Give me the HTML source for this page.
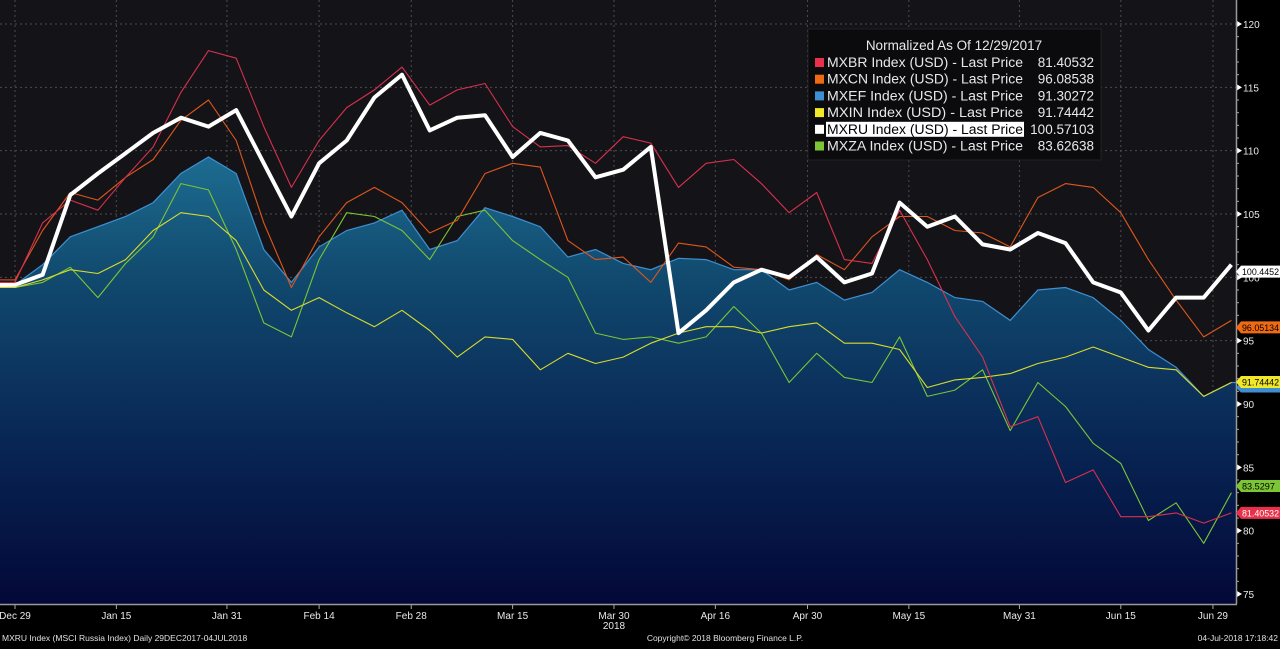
<!DOCTYPE html>
<html><head><meta charset="utf-8">
<style>
html,body{margin:0;padding:0;background:#000;}
body{width:1280px;height:644px;overflow:hidden;font-family:"Liberation Sans",sans-serif;}
svg text{font-family:"Liberation Sans",sans-serif;}
</style></head>
<body>
<svg id="chart" width="1280" height="644" viewBox="0 0 1280 644" xmlns="http://www.w3.org/2000/svg">
<defs>
<linearGradient id="areaGrad" gradientUnits="userSpaceOnUse" x1="0" y1="140" x2="0" y2="604">
<stop offset="0" stop-color="#1f7196"/>
<stop offset="0.3" stop-color="#11496e"/>
<stop offset="0.65" stop-color="#082654"/>
<stop offset="1" stop-color="#030838"/>
</linearGradient>
</defs>
<rect x="0" y="0" width="1236" height="604" fill="#141418"/>
<g id="grid"></g>
<g id="series"></g>
<g id="axes"></g>
<g id="tags"></g>
</svg>
<script>
const days = [0,3,6,9,12,15,18,21,24,27,30,33,36,39,42,45,48,51,54,57,60,63,66,69,72,75,78,81,84,87,90,93,96,99,102,105,108,111,114,117,120,123,126,129,132];
const mxru = [99.4,100.2,106.5,108.2,109.8,111.4,112.6,111.9,113.2,109.0,104.8,109.0,110.8,114.2,116.0,111.6,112.6,112.8,109.5,111.4,110.8,107.9,108.5,110.3,95.6,97.4,99.6,100.6,100.0,101.6,99.6,100.3,105.9,104.0,104.8,102.6,102.2,103.5,102.7,99.6,98.8,95.8,98.4,98.4,101.0];
const mxef = [99.4,101.0,103.2,104.0,104.8,105.9,108.2,109.5,108.2,102.2,99.6,102.4,103.7,104.3,105.3,102.2,102.9,105.5,104.8,104.0,101.6,102.2,101.1,100.6,101.5,101.4,100.6,100.6,99.0,99.6,98.2,98.8,100.6,99.6,98.4,98.1,96.6,99.0,99.2,98.4,96.6,94.3,92.9,90.6,91.7];
const mxbr = [99.6,104.3,106.1,105.3,107.9,110.3,114.6,117.9,117.3,111.9,107.1,110.8,113.4,114.8,116.6,113.6,114.8,115.3,111.9,110.3,110.4,109.0,111.1,110.6,107.1,109.0,109.3,107.4,105.1,106.7,101.4,101.1,105.3,101.4,96.9,93.7,88.2,89.0,83.8,84.8,81.1,81.1,81.4,80.6,81.4];
const mxcn = [99.8,103.7,106.7,106.1,107.9,109.3,112.4,114.0,110.8,104.3,99.2,103.2,105.9,107.1,105.9,103.5,104.5,108.2,109.0,108.7,102.9,101.4,101.6,99.6,102.7,102.4,100.8,100.6,99.8,101.8,100.6,103.2,104.8,104.8,103.7,103.5,102.4,106.3,107.4,107.1,105.1,101.4,98.2,95.3,96.6];
const mxin = [99.2,99.8,100.6,100.3,101.4,103.7,105.1,104.8,102.9,99.0,97.4,98.4,97.2,96.1,97.4,95.8,93.7,95.3,95.1,92.7,94.0,93.2,93.7,94.8,95.6,96.1,96.1,95.6,96.1,96.4,94.8,94.8,94.3,91.3,91.9,92.1,92.4,93.2,93.7,94.5,93.7,92.9,92.7,90.6,91.7];
const mxza = [99.2,99.6,100.8,98.4,101.1,103.2,107.4,106.9,102.2,96.4,95.3,101.4,105.1,104.8,103.7,101.4,104.8,105.3,102.9,101.4,100.0,95.6,95.1,95.3,94.8,95.3,97.7,95.6,91.7,94.0,92.1,91.7,95.3,90.6,91.1,92.7,87.9,91.7,89.8,86.9,85.3,80.8,82.2,79.0,83.0];
const yTicks = [75,80,85,90,95,100,105,110,115,120];
const xTickLabels = ["Dec 29","Jan 15","Jan 31","Feb 14","Feb 28","Mar 15","Mar 30","Apr 16","Apr 30","May 15","May 31","Jun 15","Jun 29"];
const xTickDays = [0,11,23,33,43,54,65,76,86,97,109,120,130];
const legendNames = ["MXBR Index (USD) - Last Price","MXCN Index (USD) - Last Price","MXEF Index (USD) - Last Price","MXIN Index (USD) - Last Price","MXRU Index (USD) - Last Price","MXZA Index (USD) - Last Price"];
const legendValues = ["81.40532","96.08538","91.30272","91.74442","100.57103","83.62638"];
const tagValues = ["100.4452","96.05134","91.74442","83.5297","81.40532"];
const tagLevels = [100.45,96.05,91.74,83.53,81.41];

const NS="http://www.w3.org/2000/svg";
function X(d){return 15+d*9.215;}
function Y(v){return 24+(120-v)*12.667;}
function mk(tag,attrs,parent){const e=document.createElementNS(NS,tag);for(const k in attrs)e.setAttribute(k,attrs[k]);parent.appendChild(e);return e;}
const grid=document.getElementById('grid'),ser=document.getElementById('series'),axes=document.getElementById('axes'),tags=document.getElementById('tags'),svg=document.getElementById('chart');

yTicks.forEach(v=>{
  const l=mk('line',{x1:0,x2:1236,y1:Y(v),y2:Y(v),stroke:'#4a4a52','stroke-width':1,'stroke-dasharray':'2,3'},grid);
  
  
  const t=mk('text',{x:1243,y:Y(v)+4,fill:'#e8e8e8','font-size':10},axes);
  t.textContent=v;
  
  
  const m=mk('path',{d:`M1237 ${Y(v)-3}L1242 ${Y(v)}L1237 ${Y(v)+3}Z`,fill:'#fff'},axes);
  
  
});
for(let v=76;v<120;v++){ if(v%5===0)continue;
  const m=mk('line',{x1:1236,x2:1239,y1:Y(v),y2:Y(v),stroke:'#aaa','stroke-width':1},axes);
  
  
}
xTickDays.forEach((d,i)=>{
  const l=mk('line',{x1:X(d),x2:X(d),y1:0,y2:604,stroke:'#4a4a52','stroke-width':1,'stroke-dasharray':'2,3'},grid);
  
  
  const t=mk('text',{x:X(d),y:619,fill:'#e8e8e8','font-size':10,'text-anchor':'middle'},axes);
  t.textContent=xTickLabels[i];
  
  
  const m=mk('line',{x1:X(d),x2:X(d),y1:604,y2:609,stroke:'#aaa'},axes);
  
  
});
const yr=mk('text',{x:X(65),y:629,fill:'#e8e8e8','font-size':10,'text-anchor':'middle'},axes);
yr.textContent='2018';


const ax1=mk('line',{x1:1236.5,x2:1236.5,y1:0,y2:604,stroke:'#9a9a9a','stroke-width':1.5},axes);


const ax2=mk('line',{x1:0,x2:1237,y1:604.5,y2:604.5,stroke:'#9a9a9a','stroke-width':1.5},axes);



function pts(arr){return days.map((d,i)=>X(d).toFixed(1)+','+Y(arr[i]).toFixed(1));}
const ap=pts(mxef);
const area=mk('path',{d:`M0,${Y(mxef[0])} L${ap.join(' L')} L1236,${Y(mxef[mxef.length-1])} L1236,604 L0,604 Z`,fill:'url(#areaGrad)'},ser);


const efl=mk('polyline',{points:`0,${Y(mxef[0])} `+ap.join(' ')+` 1236,${Y(mxef[mxef.length-1])}`,fill:'none',stroke:'#3f8fd0','stroke-width':1.2},ser);


function line(arr,color,w,name){
  const p=pts(arr);
  const l=mk('polyline',{points:`0,${Y(arr[0])} `+p.join(' '),fill:'none',stroke:color,'stroke-width':w,'stroke-linejoin':'round'},ser);
  
  
}
line(mxza,'#7cc534',1.1,'mxza-line');
line(mxin,'#d9dc2a',1.1,'mxin-line');
line(mxcn,'#e0561c',1.1,'mxcn-line');
line(mxbr,'#d8304e',1.1,'mxbr-line');
line(mxru,'#ffffff',4,'mxru-line');

const tagBg=['#ffffff','#f06a14','#f2e82a','#7cc534','#e8304a'];
const tagFg=['#000','#000','#000','#000','#fff'];
const tagNames=['mxru-last-tag','mxcn-last-tag','mxin-last-tag','mxza-last-tag','mxbr-last-tag'];
const efy=Y(91.3);
const efTag=mk('path',{d:`M1236 ${efy} L1241 ${efy-5} L1280 ${efy-5} L1280 ${efy+5} L1241 ${efy+5} Z`,fill:'#3f8fd0'},tags);


tagLevels.forEach((v,i)=>{
  const y=Y(v);
  const g=mk('g',{},tags);
  
  
  mk('path',{d:`M1236 ${y} L1241 ${y-6} L1280 ${y-6} L1280 ${y+6} L1241 ${y+6} Z`,fill:tagBg[i]},g);
  const t=mk('text',{x:1242,y:y+3.5,fill:tagFg[i],'font-size':9.5,textLength:Math.min(37,tagValues[i].length*4.7),lengthAdjust:'spacingAndGlyphs'},g);
  t.textContent=tagValues[i];
});

const lg=mk('g',{},svg);


mk('rect',{x:808,y:29,width:293,height:131,fill:'#0b0b0d',stroke:'#222','stroke-width':1},lg);
const lt=mk('text',{x:954,y:50,fill:'#e8e8e8','font-size':13.5,'text-anchor':'middle'},lg);
lt.textContent='Normalized As Of 12/29/2017';


const lc=['#e8304a','#f06a14','#3f8fd0','#f2e82a','#ffffff','#7cc534'];
legendNames.forEach((n,i)=>{
  const y=67+i*16.7;
  const g=mk('g',{},lg);
  
  
  mk('rect',{x:815,y:y-9,width:9,height:9,fill:lc[i]},g);
  if(i===4) mk('rect',{x:826,y:y-12,width:198,height:15,fill:'#fff'},g);
  const t=mk('text',{x:827,y:y,fill:i===4?'#000':'#e8e8e8','font-size':13.5,textLength:196,lengthAdjust:'spacingAndGlyphs'},g);
  t.textContent=n;
  const v=mk('text',{x:1094,y:y,fill:'#e8e8e8','font-size':13.5,'text-anchor':'end'},g);
  v.textContent=legendValues[i];
});

const f1=mk('text',{x:2,y:641,fill:'#e0e0e0','font-size':8.5},svg);
f1.textContent='MXRU Index (MSCI Russia Index)  Daily 29DEC2017-04JUL2018';


const f2=mk('text',{x:725,y:641,fill:'#e0e0e0','font-size':8.5,'text-anchor':'middle'},svg);
f2.textContent='Copyright\u00A9 2018 Bloomberg Finance L.P.';


const f3=mk('text',{x:1278,y:641,fill:'#e0e0e0','font-size':8.5,'text-anchor':'end'},svg);
f3.textContent='04-Jul-2018 17:18:42';


</script>
</body></html>
